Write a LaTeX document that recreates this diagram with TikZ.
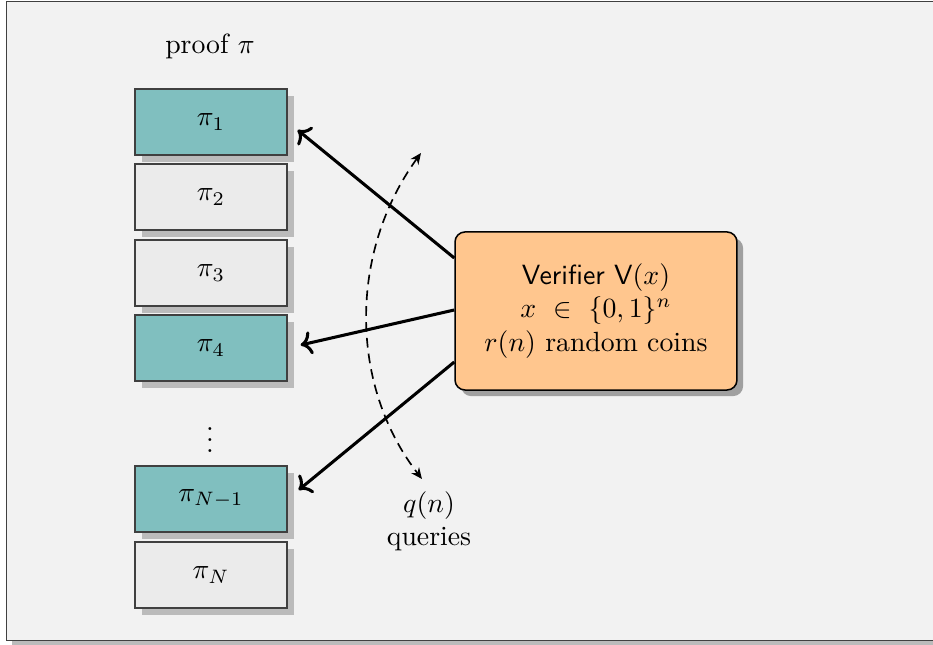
\documentclass[tikz,border=0pt]{standalone}
\usetikzlibrary{shadows,calc,arrows.meta}
\definecolor{bgc}{HTML}{F2F2F2}
\definecolor{tealc}{HTML}{80BFBF}
\definecolor{greybox}{HTML}{EBEBEB}
\definecolor{orangebox}{HTML}{FFC68E}
\definecolor{shadowc}{HTML}{BBBBBB}
\definecolor{vshadow}{HTML}{A0A0A0}
\definecolor{framec}{HTML}{404040}
\begin{document}
\begin{tikzpicture}[x=0.36pt,y=-0.36pt,
  cell/.style={draw=framec, line width=0.5pt, minimum width=54.7pt, minimum height=23.8pt, inner sep=0pt,
    drop shadow={shadow xshift=2.5pt, shadow yshift=-2.5pt, opacity=1, fill=shadowc}},
  hit/.style={cell, fill=tealc},
  miss/.style={cell, fill=greybox},
  ver/.style={draw=black, line width=0.55pt, fill=orangebox, rounded corners=3.6pt, minimum width=101.5pt,
    minimum height=56.9pt, align=center, inner sep=0pt,
    drop shadow={shadow xshift=2.2pt, shadow yshift=-2.2pt, opacity=1, fill=vshadow}},
  ar/.style={line width=1.1pt, ->},
  qa/.style={line width=0.6pt, dash pattern=on 3.5pt off 2.2pt, {Stealth[length=4pt,width=3.5pt]}-{Stealth[length=4pt,width=3.5pt]}}
]
\clip (0,0) rectangle (933,645);
\fill[shadowc] (12.5,6.5) rectangle (960,647);
\draw[fill=bgc, draw=framec, line width=0.6pt] (6.5,1.5) rectangle (955,640.5);

\node (proof) at (210,46) {proof $\pi$};
\node[hit]  (p1)  at (211,122) {$\pi_1$};
\node[miss] (p2)  at (211,197) {$\pi_2$};
\node[miss] (p3)  at (211,273) {$\pi_3$};
\node[hit]  (p4)  at (211,348) {$\pi_4$};
\node       (vd)  at (210,432) {$\vdots$};
\node[hit]  (pn1) at (211,499) {$\pi_{N-1}$};
\node[miss] (pn)  at (211,575) {$\pi_N$};

\node[ver] (ver) at (596,311) {\textsf{Verifier V}$(x)$\\ $x ~\in~ \{0,1\}^n$\\ $r(n)$ random coins};

\draw[ar] ($(ver.west)+(0,-53)$) -- ($(p1.east)+(10,8)$);
\draw[ar] ($(ver.west)+(0,-1)$) -- ($(p4.east)+(13,-3)$);
\draw[ar] ($(ver.west)+(0,51)$) -- ($(pn1.east)+(11,-9)$);

\coordinate (qt) at (421,153);
\coordinate (qb) at (422,479);
\draw[qa] (qt) .. controls (349,252) and (349,385) .. (qb);

\node[align=center] (qn) at (429,521) {$q(n)$\\queries};
\end{tikzpicture}
\end{document}
